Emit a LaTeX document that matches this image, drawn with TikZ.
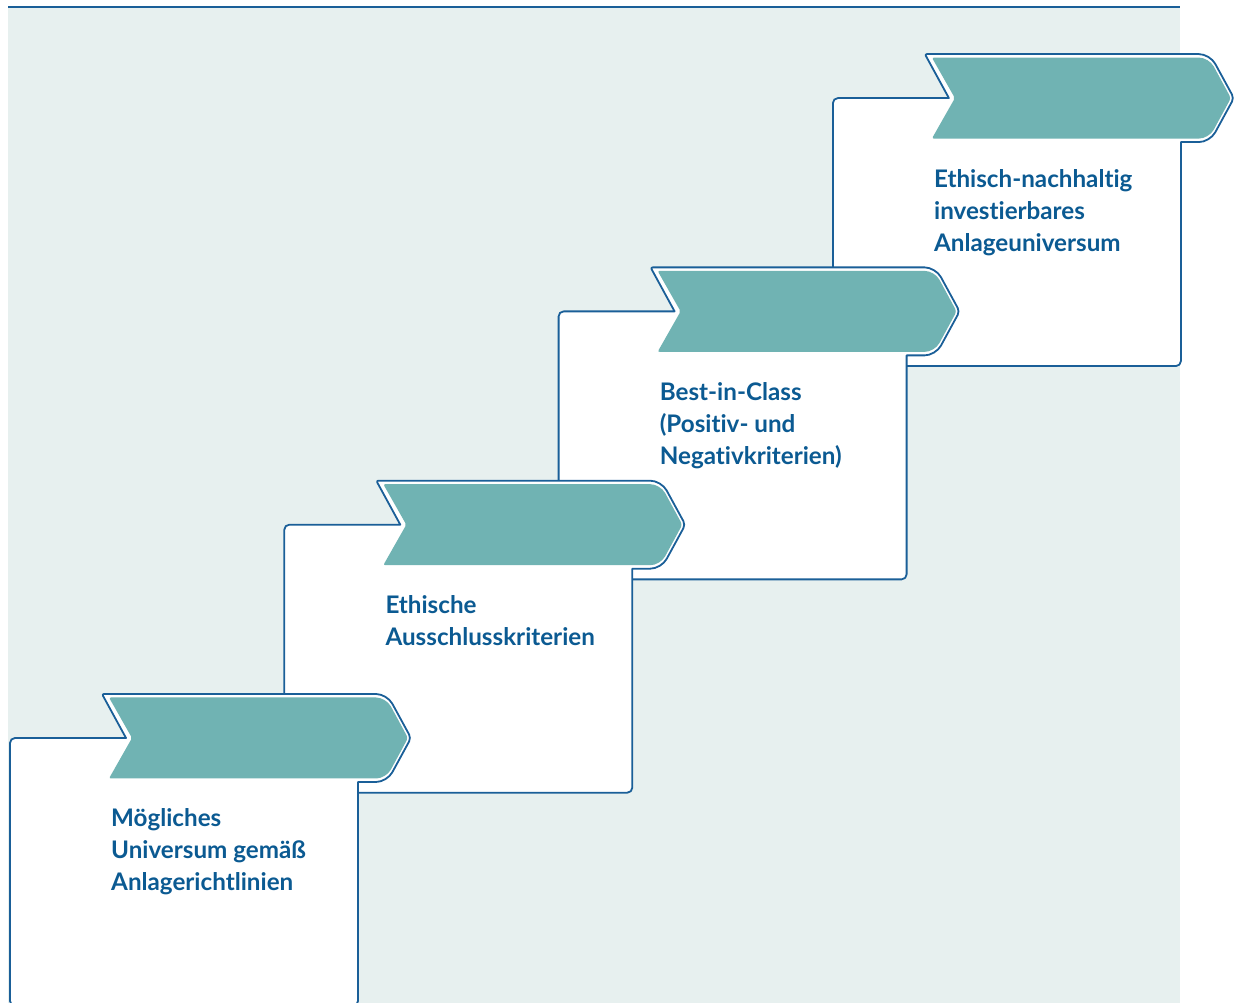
\documentclass[tikz,border=0pt]{standalone}
\usepackage{fontspec}
\setmainfont{Lato}[Ligatures=NoCommon]
\usepackage{tikz}
\usetikzlibrary{positioning}

\definecolor{stepblue}{HTML}{1A5F98}
\definecolor{steptext}{HTML}{0B5A92}
\definecolor{stepteal}{HTML}{70B3B3}
\definecolor{stepbg}{HTML}{E7F0EF}

\tikzset{
  stepline/.style={draw=stepblue, line width=1.8pt, fill=white, line join=round},
  steparrow/.style={fill=stepteal},
  steplabel/.style={anchor=base west, inner sep=0pt, align=left, text=steptext,
    font=\fontsize{24.2}{32}\selectfont\bfseries}
}

\begin{document}
\begin{tikzpicture}[x=1pt, y=1pt]
    \useasboundingbox (0,0) rectangle (1245,1003);
    % background
    \fill[stepbg] (8,0) rectangle (1180,995);
    \draw[stepblue, line width=2pt] (8,996) -- (1180,996);

    \foreach \i/\n/\txt in {3/3/{Ethisch-nachhaltig\\investierbares\\Anlageuniversum},
                            2/3/{Best-in-Class\\(Positiv- und\\Negativkriterien)},
                            1/2/{Ethische\\Ausschlusskriterien},
                            0/3/{Mögliches\\Universum gemäß\\Anlagerichtlinien}}{
        \pgfmathsetmacro\bx{10+274.3*\i}
        \pgfmathsetmacro\by{265+213.3*\i}
        \begin{scope}[shift={(\bx,\by)}]
            % box with chevron outline
            \path[stepline] (348,-44) [rounded corners=5] -- (348,-268) -- (0,-268)
                -- (0,0) [sharp corners] -- (116,0) [rounded corners=2] -- (92,44)
                [rounded corners=11] -- (377,44) [rounded corners=4] -- (401,0)
                [rounded corners=11] -- (377,-44) [sharp corners] -- cycle;
            % chevron
            \fill[steparrow] (99,40.5) [rounded corners=10] -- (376,40.5)
                [rounded corners=3] -- (398,0) [rounded corners=10] -- (376,-40.5)
                [rounded corners=2] -- (99,-40.5) -- (122,0) -- cycle;
            % label, placed by its last line
            \node[steplabel] (label\i) at ({101},{-89-32*(\n-1)}) {\txt};
        \end{scope}
    }
\end{tikzpicture}
\end{document}
